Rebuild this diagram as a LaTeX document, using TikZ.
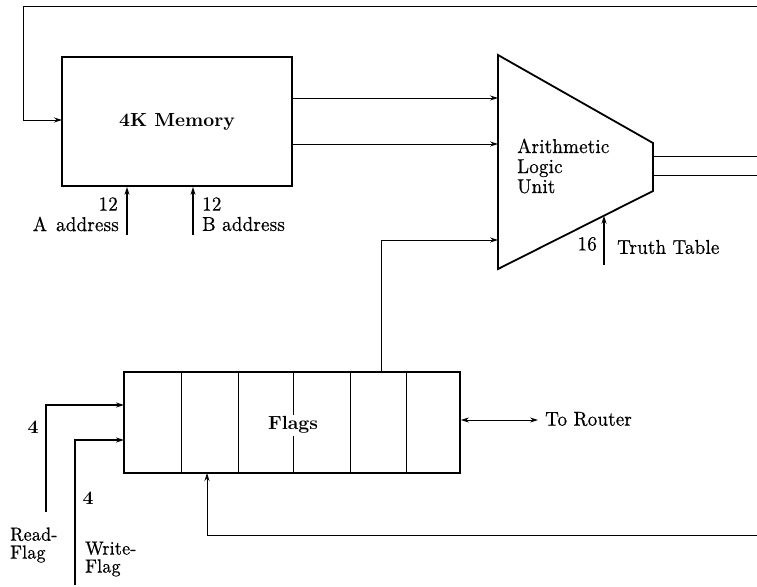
\documentclass[tikz,border=0pt]{standalone}
\usepackage{fontspec}
\usetikzlibrary{arrows.meta}
\newfontfamily\labelfam{lmroman10-regular}[Extension=.otf, LetterSpace=1, FakeStretch=0.95, FakeBold=0.6]
\newfontfamily\heavyfam{lmroman10-bold}[Extension=.otf]
\newcommand{\wideface}{\labelfam\fontsize{20}{20}\selectfont}
\newcommand{\tightface}{\labelfam\fontsize{19}{18}\selectfont}
\newcommand{\heavyface}{\heavyfam\fontsize{19}{20}\selectfont}
\begin{document}
\begin{tikzpicture}[x=1pt,y=-1pt,
  every node/.style={inner sep=0pt},
  txt/.style={font=\wideface},
  thin line/.style={line width=0.8pt},
  thick line/.style={line width=1.8pt},
  tip/.style={-{Stealth[length=8pt,width=5pt]}},
  box/.style={draw, line width=1.8pt, minimum width=#1},
  lbl/.style={align=left, anchor=west}
]
\useasboundingbox (0,0) rectangle (757,586);

% Memory
\node[box=230pt, minimum height=129pt, font=\heavyface] (mem) at (177,121.5) {4K Memory};

% ALU
\coordinate (alutl) at (498,55);
\coordinate (alubl) at (498,269);
\coordinate (alutr) at (653,143);
\coordinate (alubr) at (653,191);
\draw[line width=1.8pt, line join=miter] (alutl) -- (alutr) -- (alubr) -- (alubl) -- cycle;
\node[txt, lbl, anchor=base west, align=left] (alutxt) at (517,193) {Arithmetic\\Logic\\Unit};
\coordinate (aluinA) at (498,98);
\coordinate (aluinB) at (498,144);
\coordinate (aluinC) at (498,240);
\coordinate (aluoutA) at (653,156);
\coordinate (aluoutB) at (653,175);
\coordinate (aluTT) at (604,215.7);

% Flags register
\node[draw, line width=1.8pt, minimum width=336pt, minimum height=101pt] (flags) at (292,422.5) {};
\foreach \x in {181,238,293,350,406}
  \draw[thin line] (\x,372) -- (\x,473);
\node[fill=white, inner sep=2pt, font=\heavyface] (flagstxt) at (293,425) {Flags};

% Edge coordinates
\coordinate (topR) at (757,6);
\coordinate (topL) at (23,6);
\coordinate (memin) at (62,120);
\coordinate (outAR) at (757,156);
\coordinate (outBR) at (757,175);
\coordinate (botR) at (757,535);
\coordinate (botL) at (207,535);
\coordinate (flagsin) at (207,473);

% Feedback loops
\draw[thin line, tip] (topR) -- (topL) -- (topL |- memin) -- (memin);
\draw[thin line, tip] (botR) -- (botL) -- (flagsin);

% Memory to ALU
\draw[thin line, tip] (mem.east |- aluinA) -- (aluinA);
\draw[thin line, tip] (mem.east |- aluinB) -- (aluinB);

% ALU outputs
\draw[thin line] (aluoutA) -- (outAR);
\draw[thin line] (aluoutB) -- (outBR);

% Flags to ALU
\coordinate (flagsout) at (381,372);
\draw[thin line, tip] (flagsout) -- (flagsout |- aluinC) -- (aluinC);

% Address inputs
\coordinate (aaddr) at (127,235);
\coordinate (baddr) at (193,235);
\draw[thick line, tip] (aaddr) -- (aaddr |- mem.south);
\draw[thick line, tip] (baddr) -- (baddr |- mem.south);
\node[txt, anchor=east] (a12) at (118,204) {12};
\node[txt, anchor=east] (aaddrtxt) at (119,224) {A\hspace{9pt}address};
\node[txt, anchor=west] (b12) at (202,204) {12};
\node[txt, anchor=west] (baddrtxt) at (202,224) {B address};

% Truth table
\coordinate (tt) at (604,265);
\draw[thick line, tip] (tt) -- (aluTT);
\node[txt, anchor=east] (tt16) at (597,244) {16};
\node[txt, anchor=west] (tttxt) at (617,247) {Truth Table};

% Router
\coordinate (router) at (538,420);
\draw[thin line, {Stealth[length=8pt,width=5pt]}-{Stealth[length=8pt,width=5pt]}] (flags.east |- router) -- (router);
\node[txt, anchor=west] (routertxt) at (545,419) {To Router};

% Read / Write flag inputs
\coordinate (rf) at (46,512);
\coordinate (rfin) at (124,405);
\coordinate (wf) at (75,585);
\coordinate (wfin) at (124,440);
\draw[thick line, tip] (rf) -- (rf |- rfin) -- (rfin);
\draw[thick line, tip] (wf) -- (wf |- wfin) -- (wfin);
\node[font=\heavyface] (rf4) at (33,427) {4};
\node[font=\heavyface] (wf4) at (88,498) {4};
\node[lbl, font=\tightface] (rftxt) at (10,545) {Read-\\Flag};
\node[lbl, font=\tightface] (wftxt) at (85,559) {Write-\\Flag};
\end{tikzpicture}
\end{document}
